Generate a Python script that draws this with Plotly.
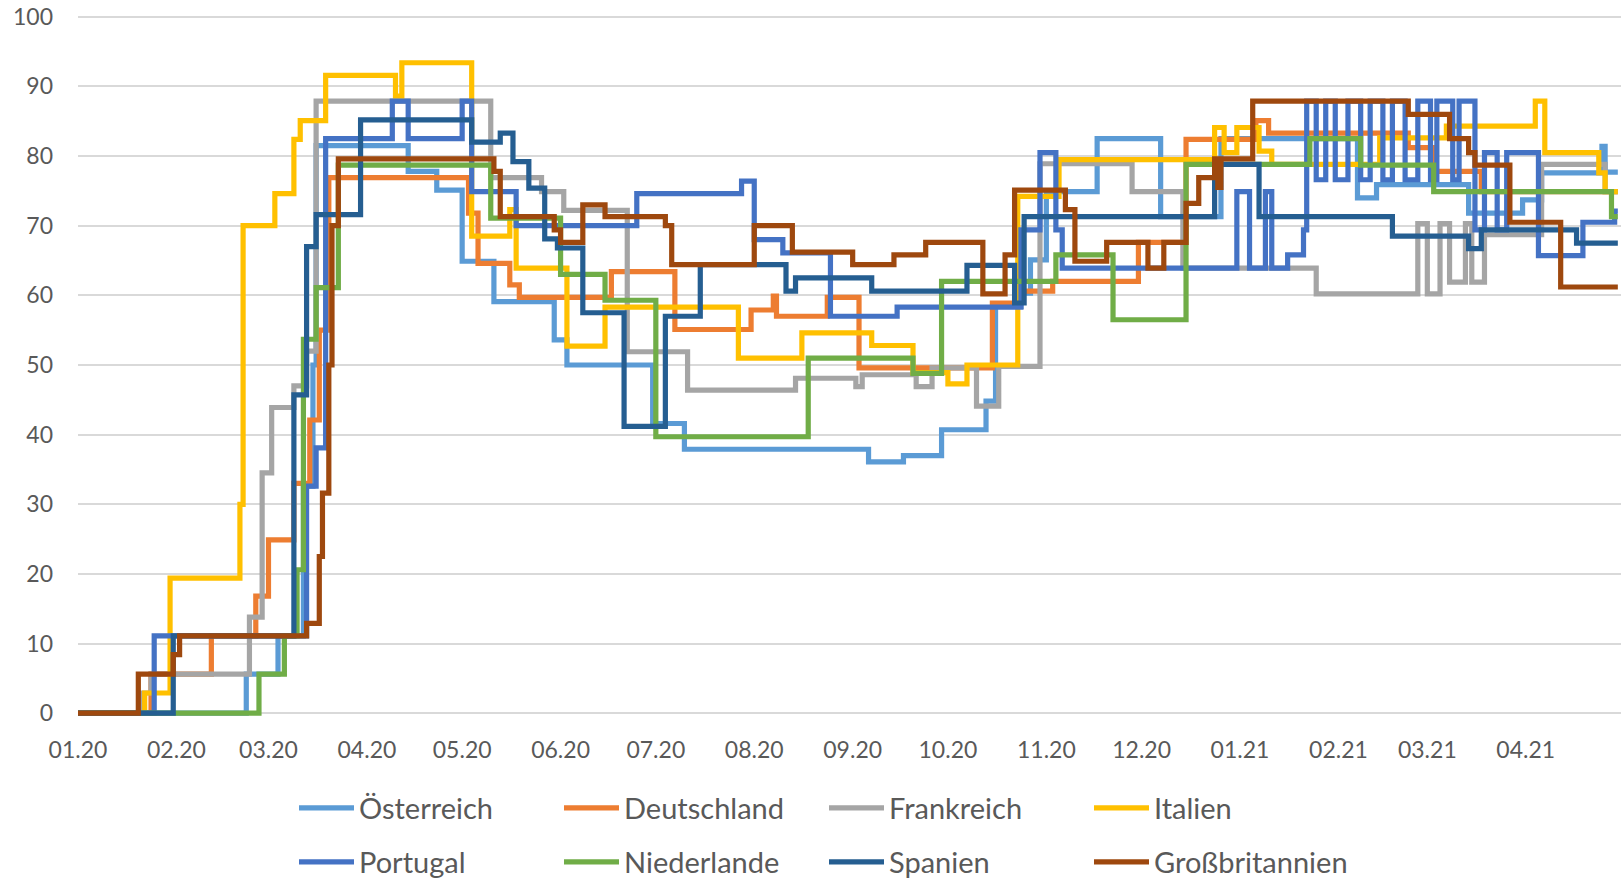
import pandas as pd
import plotly.graph_objects as go

START = "2020-01-01"

# change points: day offset from START and value that holds from that day on
AT_DAYS = [0, 53, 63, 71, 74, 75, 104, 113, 121, 131, 150, 154, 181, 191, 249, 260, 272, 286, 289, 297, 300, 305, 321, 341, 360, 403, 409, 438, 455, 461, 480, 481, 485]
AT_VALS = [0, 5.6, 11.1, 32.6, 50.0, 81.5, 77.8, 75.1, 64.9, 59.1, 53.6, 50.0, 41.6, 37.9, 36.1, 37.0, 40.7, 44.8, 58.4, 60.3, 65.1, 74.9, 82.5, 71.3, 82.5, 74.0, 75.9, 71.8, 73.7, 77.6, 81.4, 77.7, 77.7]

DE_DAYS = [0, 23, 42, 56, 60, 68, 73, 76, 79, 123, 126, 136, 139, 168, 188, 212, 219, 220, 236, 246, 288, 296, 307, 334, 349, 371, 375, 419, 427, 442, 485]
DE_VALS = [0, 5.6, 11.1, 16.8, 24.9, 33.0, 42.1, 55.0, 76.9, 71.8, 64.6, 61.5, 59.7, 63.4, 55.1, 57.9, 59.9, 57.0, 59.7, 49.6, 58.9, 60.6, 62.0, 67.6, 82.4, 85.1, 83.3, 81.2, 77.8, 74.9, 74.9]

FR_DAYS = [0, 20, 23, 54, 58, 61, 68, 72, 75, 130, 146, 153, 173, 192, 226, 245, 247, 264, 269, 283, 290, 303, 332, 348, 390, 422, 425, 429, 432, 437, 439, 443, 461, 481, 485]
FR_VALS = [0, 2.9, 5.6, 13.8, 34.5, 43.9, 47.0, 52.0, 87.9, 76.9, 74.9, 72.2, 51.9, 46.4, 48.1, 46.9, 48.6, 46.9, 49.6, 44.1, 49.8, 78.9, 74.9, 63.9, 60.2, 70.3, 60.2, 70.3, 61.9, 70.3, 61.9, 68.7, 78.8, 74.9, 74.9]

IT_DAYS = [0, 21, 29, 51, 52, 62, 68, 70, 78, 100, 102, 124, 136, 138, 154, 166, 208, 228, 250, 263, 274, 280, 296, 309, 358, 361, 365, 372, 376, 410, 431, 459, 462, 479, 481, 485]
IT_VALS = [0, 2.9, 19.4, 30.0, 70.0, 74.6, 82.4, 85.1, 91.6, 88.6, 93.4, 68.5, 72.3, 63.9, 52.7, 58.3, 51.0, 54.6, 52.8, 48.9, 47.3, 50.0, 74.2, 79.5, 84.1, 80.5, 84.1, 80.7, 78.8, 82.6, 84.3, 87.9, 80.5, 77.6, 74.9, 74.9]

PT_DAYS = [0, 24, 72, 75, 78, 99, 104, 121, 124, 138, 176, 209, 213, 222, 237, 258, 297, 303, 308, 310, 365, 369, 374, 376, 381, 386, 387, 390, 393, 396, 400, 404, 407, 411, 414, 418, 422, 426, 428, 433, 435, 440, 443, 447, 450, 460, 474, 484, 485]
PT_VALS = [0, 11.1, 32.6, 38.1, 82.5, 87.9, 82.5, 87.9, 74.9, 70.0, 74.6, 76.4, 68.0, 66.1, 57.0, 58.3, 69.4, 80.5, 69.4, 63.9, 74.9, 63.9, 74.9, 63.9, 65.8, 69.4, 87.9, 76.6, 87.9, 76.6, 87.9, 76.6, 87.9, 76.6, 87.9, 76.6, 87.9, 76.6, 87.9, 76.6, 87.9, 69.4, 80.5, 69.4, 80.5, 65.7, 70.5, 72.1, 72.1]

NL_DAYS = [0, 57, 65, 69, 71, 75, 82, 130, 152, 166, 182, 230, 263, 272, 308, 326, 349, 388, 404, 427, 483, 485]
NL_VALS = [0, 5.6, 11.1, 20.6, 53.7, 61.1, 78.7, 71.1, 63.0, 59.3, 39.7, 51.0, 48.8, 62.0, 65.8, 56.5, 78.8, 82.5, 78.7, 74.9, 71.3, 71.3]

ES_DAYS = [0, 30, 68, 72, 75, 89, 124, 133, 137, 142, 147, 151, 159, 172, 185, 196, 223, 226, 250, 280, 295, 298, 358, 372, 414, 438, 442, 472, 485]
ES_VALS = [0, 11.1, 45.7, 67.0, 71.6, 85.2, 82.0, 83.3, 79.2, 75.4, 68.1, 66.8, 57.5, 41.2, 57.0, 64.4, 60.6, 62.5, 60.6, 64.3, 58.9, 71.3, 78.8, 71.3, 68.5, 66.7, 69.4, 67.5, 67.5]

GB_DAYS = [0, 19, 30, 32, 72, 76, 77, 79, 80, 82, 131, 133, 150, 152, 159, 166, 185, 187, 213, 225, 244, 257, 267, 285, 292, 295, 311, 314, 324, 337, 342, 349, 353, 358, 359, 360, 370, 419, 432, 438, 440, 451, 467, 485]
GB_VALS = [0, 5.6, 8.4, 11.1, 12.9, 22.5, 31.6, 50.0, 70.0, 79.6, 77.8, 71.3, 69.4, 67.6, 73.0, 71.3, 70.0, 64.4, 70.0, 66.2, 64.4, 65.8, 67.6, 60.2, 65.8, 75.1, 72.3, 64.9, 67.6, 63.9, 67.6, 73.2, 76.9, 79.6, 75.5, 79.6, 87.9, 86.0, 82.5, 80.5, 78.7, 70.5, 61.2, 61.2]

SERIES = [
    ("Österreich", AT_DAYS, AT_VALS, "#5B9BD5", "legend"),
    ("Deutschland", DE_DAYS, DE_VALS, "#ED7D31", "legend"),
    ("Frankreich", FR_DAYS, FR_VALS, "#A5A5A5", "legend"),
    ("Italien", IT_DAYS, IT_VALS, "#FFC000", "legend"),
    ("Portugal", PT_DAYS, PT_VALS, "#4472C4", "legend2"),
    ("Niederlande", NL_DAYS, NL_VALS, "#70AD47", "legend2"),
    ("Spanien", ES_DAYS, ES_VALS, "#255E91", "legend2"),
    ("Großbritannien", GB_DAYS, GB_VALS, "#9E480E", "legend2"),
]

start = pd.Timestamp(START)
fig = go.Figure()
for name, days, vals, color, leg in SERIES:
    x = [start + pd.Timedelta(days=d) for d in days]
    fig.add_trace(go.Scatter(
        x=x, y=vals, name=name, mode="lines", line_shape="hv",
        line=dict(color=color, width=5.2), legend=leg, hoverinfo="skip",
    ))

FONT = "Lato"
TXT = "#595959"
W, H = 1624, 879
ML, MR, MT, MB = 78, 3, 14, 163
pw = W - ML - MR
ph = H - MT - MB

def px_x(p):
    return (p - ML) / pw

def px_y(p):
    return (H - MB - p) / ph

leg_common = dict(
    orientation="h", xanchor="left", yanchor="middle",
    entrywidth=195, entrywidthmode="pixels", itemwidth=55,
    font=dict(family=FONT, size=29, color=TXT),
    bgcolor="rgba(0,0,0,0)", borderwidth=0, itemclick=False,
)

fig.update_layout(
    width=W, height=H,
    margin=dict(l=ML, r=MR, t=MT, b=MB, pad=0, autoexpand=False),
    paper_bgcolor="white", plot_bgcolor="white",
    showlegend=True,
    legend=dict(x=px_x(294), y=px_y(808), **leg_common),
    legend2=dict(x=px_x(294), y=px_y(862), **leg_common),
    xaxis=dict(
        type="date", automargin=False,
        range=[start, start + pd.Timedelta(days=486)],
        dtick="M1", tick0=START, tickformat="%m.%y",
        showgrid=False, showline=False, zeroline=False, ticks="",
        ticklabelstandoff=18,
        tickfont=dict(family=FONT, size=23, color=TXT),
    ),
    yaxis=dict(
        range=[-0.4, 100.4], dtick=10, tick0=0, automargin=False,
        showgrid=True, gridcolor="#D9D9D9", gridwidth=1.5,
        zeroline=True, zerolinecolor="#D9D9D9", zerolinewidth=1.5,
        showline=False, ticks="", ticklabelstandoff=24,
        tickfont=dict(family=FONT, size=23, color=TXT),
    ),
)

fig.write_html(
    "out.html",
    config={"displayModeBar": False},
    post_script="document.body.style.margin='0';document.body.style.overflow='hidden';",
)
